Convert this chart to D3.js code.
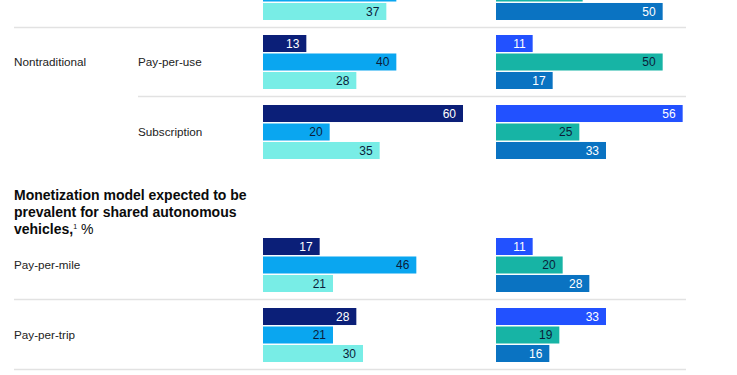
<!DOCTYPE html>
<html>
<head>
<meta charset="utf-8">
<script src="https://cdn.jsdelivr.net/npm/d3@7"></script>
<style>
  body { margin: 0; background: #fff; }
  svg { display: block; font-family: "Liberation Sans", Arial, sans-serif; }
</style>
</head>
<body>
<div id="chart"></div>
<script>
// rows of the chart (the first row is cut off at the top of the picture)
const rowLabels = ["", "Pay-per-use", "Subscription", "Pay-per-mile", "Pay-per-trip"];
const categoryLabels = ["", "Nontraditional", "", "", ""];
const leftValues = [[null, 40, 37], [13, 40, 28], [60, 20, 35], [17, 46, 21], [28, 21, 30]];
const rightValues = [[null, 26, 50], [11, 50, 17], [56, 25, 33], [11, 20, 28], [33, 19, 16]];
const leftColors = ["#0b1f78", "#0aa6f0", "#78ede6"];
const rightColors = ["#2251ff", "#17b4a5", "#0a73c2"];
const leftText = ["#fff", "#0b1d3a", "#0b1d3a"];
const rightText = ["#fff", "#0b1d3a", "#fff"];
const titleLines = ["Monetization model expected to be", "prevalent for shared autonomous", "vehicles,"];

const width = 737, height = 375;
const svg = d3.select("#chart").append("svg").attr("width", width).attr("height", height);

// vertical layout: top of each 3-bar group, section title sits between rows 2 and 3
const groupTop = [-34, 35, 105, 238, 308];
const x = d3.scaleLinear().domain([0, 60]).range([0, 200]);
const barY = d3.scaleBand().domain([0, 1, 2]).range([0, 54]).paddingInner(0.08);
const leftX0 = 263, rightX0 = 496, lineEnd = 686;

// separators under rows (indented ones sit between sub rows of the same category)
const separators = [
  { row: 0, x1: 14 }, { row: 1, x1: 138 }, { row: 3, x1: 14 }, { row: 4, x1: 14 }
];
svg.selectAll(".sep").data(separators).enter().append("line")
  .attr("class", "sep")
  .attr("x1", d => d.x1).attr("x2", lineEnd)
  .attr("y1", d => groupTop[d.row] + 61.5).attr("y2", d => groupTop[d.row] + 61.5)
  .attr("stroke", "#e2e2e2").attr("stroke-width", 1.3);

// row labels
rowLabels.forEach((label, i) => {
  if (!label) return;
  const indent = i <= 2 ? 138 : 14;
  svg.append("text").attr("x", indent).attr("y", groupTop[i] + 27).attr("dy", "0.35em")
    .attr("fill", "#222").style("font-size", "11.7px").text(label);
});
categoryLabels.forEach((label, i) => {
  if (!label) return;
  svg.append("text").attr("x", 14).attr("y", groupTop[i] + 27).attr("dy", "0.35em")
    .attr("fill", "#222").style("font-size", "11.7px").text(label);
});

// section title
const title = svg.append("text").attr("x", 14).attr("y", 200)
  .attr("fill", "#0b0b0b").style("font-size", "14px").style("font-weight", "700");
titleLines.forEach((t, i) => {
  title.append("tspan").attr("x", 14).attr("dy", i === 0 ? 0 : 17).text(t);
});
title.append("tspan").attr("dy", -5).style("font-size", "7px").style("font-weight", "400").text("1");
title.append("tspan").attr("dy", 5).style("font-weight", "400").text(" %");

function drawSide(values, x0, colors, textColors, cls) {
  const bars = [];
  values.forEach((grp, r) => grp.forEach((v, k) => {
    if (v != null) bars.push({ r, k, v });
  }));
  svg.selectAll("." + cls).data(bars).enter().append("rect")
    .attr("class", cls)
    .attr("x", x0)
    .attr("y", d => groupTop[d.r] + barY(d.k))
    .attr("width", d => x(d.v))
    .attr("height", barY.bandwidth())
    .attr("fill", d => colors[d.k]);
  // only label bars that are inside the picture
  const shown = bars.filter(d => groupTop[d.r] + barY(d.k) >= 0);
  svg.selectAll("." + cls + "-label").data(shown).enter().append("text")
    .attr("class", cls + "-label")
    .attr("x", d => x0 + x(d.v) - 7)
    .attr("y", d => groupTop[d.r] + barY(d.k) + barY.bandwidth() / 2)
    .attr("dy", "0.36em")
    .attr("text-anchor", "end")
    .attr("fill", d => textColors[d.k])
    .style("font-size", "12px")
    .text(d => d.v);
}

drawSide(leftValues, leftX0, leftColors, leftText, "lbar");
drawSide(rightValues, rightX0, rightColors, rightText, "rbar");
</script>
</body>
</html>
